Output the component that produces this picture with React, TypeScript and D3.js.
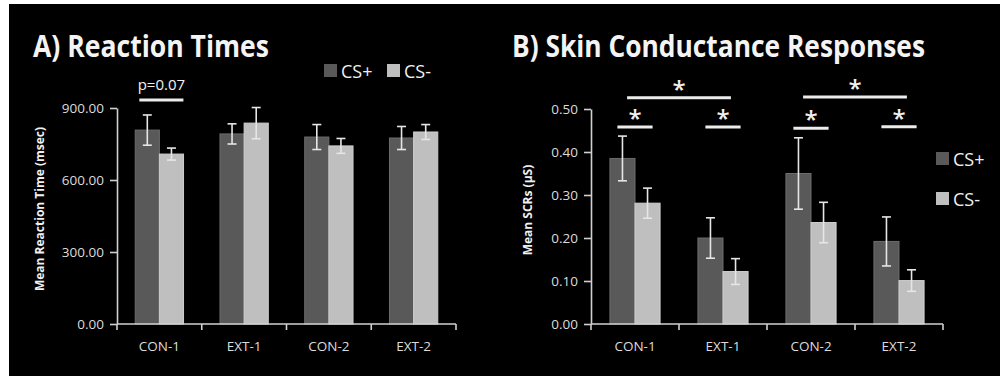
import React, { useRef, useEffect } from "react";
import * as d3 from "d3";

const categories = ["CON-1", "EXT-1", "CON-2", "EXT-2"];
const seriesNames = ["CS+", "CS-"];

// panel A: reaction times (msec)
const rtCSPlus = [808, 792, 779, 775];
const rtCSPlusErr = [63, 42, 52, 48];
const rtCSMinus = [708, 837, 742, 800];
const rtCSMinusErr = [25, 65, 31, 31];
const rtTicks = [0, 300, 600, 900];

// panel B: skin conductance responses (uS)
const scrCSPlus = [0.385, 0.2, 0.35, 0.192];
const scrCSPlusErr = [0.052, 0.047, 0.083, 0.057];
const scrCSMinus = [0.281, 0.122, 0.236, 0.101];
const scrCSMinusErr = [0.035, 0.03, 0.047, 0.025];
const scrTicks = [0, 0.1, 0.2, 0.3, 0.4, 0.5];

// significance markers
const rtPairSig = [{ cat: "CON-1", level: 933, label: "p=0.07" }];
const scrPairSig = [
  { cat: "CON-1", level: 0.458, label: "*" },
  { cat: "EXT-1", level: 0.458, label: "*" },
  { cat: "CON-2", level: 0.455, label: "*" },
  { cat: "EXT-2", level: 0.459, label: "*" },
];
const scrAcrossSig = [
  { from: "CON-1", to: "EXT-1", level: 0.526, label: "*" },
  { from: "CON-2", to: "EXT-2", level: 0.528, label: "*" },
];

const DARK = "#595959";
const LIGHT = "#bfbfbf";
const AXIS = "#d0d0d0";
const TEXT = "#dcdcdc";
const FONT = "'Open Sans', sans-serif";

type Panel = {
  title: string;
  titleX: number;
  titleLen: number;
  yLabel: string;
  yLabelX: number;
  yLabelY: number;
  x0: number;
  x1: number;
  yTop: number;
  yMax: number;
  ticks: number[];
  plus: number[];
  plusErr: number[];
  minus: number[];
  minusErr: number[];
  pairs: { cat: string; level: number; label: string }[];
  pairHalf: number;
  pairShift: number;
  pairFont: number;
  across: { from: string; to: string; level: number; label: string }[];
  legend: { x: number; y: number; dx: number; dy: number }[];
};

const panels: Panel[] = [
  {
    title: "A) Reaction Times",
    titleX: 33,
    titleLen: 236,
    yLabel: "Mean Reaction Time (msec)",
    yLabelX: 44,
    yLabelY: 209,
    x0: 117,
    x1: 456,
    yTop: 108,
    yMax: 900,
    ticks: rtTicks,
    plus: rtCSPlus,
    plusErr: rtCSPlusErr,
    minus: rtCSMinus,
    minusErr: rtCSMinusErr,
    pairs: rtPairSig,
    pairHalf: 0.26,
    pairShift: 2,
    pairFont: 15,
    across: [],
    legend: [
      { x: 324, y: 64, dx: 17, dy: 14 },
      { x: 387, y: 64, dx: 17, dy: 14 },
    ],
  },
  {
    title: "B) Skin Conductance Responses",
    titleX: 512,
    titleLen: 413,
    yLabel: "Mean SCRs (\u00b5S)",
    yLabelX: 532,
    yLabelY: 210,
    x0: 591,
    x1: 943,
    yTop: 109,
    yMax: 0.5,
    ticks: scrTicks,
    plus: scrCSPlus,
    plusErr: scrCSPlusErr,
    minus: scrCSMinus,
    minusErr: scrCSMinusErr,
    pairs: scrPairSig,
    pairHalf: 0.2,
    pairShift: 0,
    pairFont: 24,
    across: scrAcrossSig,
    legend: [
      { x: 936, y: 152, dx: 17, dy: 14 },
      { x: 936, y: 192, dx: 17, dy: 14 },
    ],
  },
];

const Chart = () => {
  const svgRef = useRef<SVGSVGElement>(null);

  useEffect(() => {
    const svg = d3.select(svgRef.current);
    svg.selectAll("*").remove();

    svg.append("rect").attr("width", 1000).attr("height", 376).attr("fill", "#fff");
    svg.append("rect").attr("x", 9).attr("y", 4).attr("width", 991).attr("height", 372).attr("fill", "#000");

    panels.forEach((p) => {
      const g = svg.append("g");
      const xScale = d3.scaleBand().domain(categories).range([p.x0, p.x1]).padding(0);
      const yScale = d3.scaleLinear().domain([0, p.yMax]).range([324, p.yTop]);
      const bw = xScale.bandwidth() * 0.285;
      const center = (c: string) => (xScale(c) as number) + xScale.bandwidth() / 2;

      // title
      g.append("text")
        .attr("x", p.titleX)
        .attr("y", 57)
        .attr("fill", "#f4f4f4")
        .attr("font-family", FONT)
        .attr("font-weight", 700)
        .attr("font-size", 30)
        .attr("textLength", p.titleLen)
        .attr("lengthAdjust", "spacingAndGlyphs")
        .text(p.title);

      // y axis
      const yAxis = d3
        .axisLeft(yScale)
        .tickValues(p.ticks)
        .tickFormat(d3.format(".2f"))
        .tickSize(7)
        .tickSizeOuter(0)
        .tickPadding(6);
      const ya = g.append("g").attr("transform", `translate(${p.x0},0)`).call(yAxis);
      ya.selectAll("path,line").attr("stroke", AXIS).attr("stroke-width", 1.6);
      ya.selectAll("text").attr("fill", TEXT).attr("font-family", FONT).attr("font-size", 13.5);

      g.append("text")
        .attr("transform", `translate(${p.yLabelX},${p.yLabelY}) rotate(-90)`)
        .attr("text-anchor", "middle")
        .attr("fill", "#f0f0f0")
        .attr("font-family", FONT)
        .attr("font-weight", 700)
        .attr("font-size", 12)
        .text(p.yLabel);

      // bars
      const rows = categories.map((c, i) => [
        { c, k: 0, v: p.plus[i], e: p.plusErr[i] },
        { c, k: 1, v: p.minus[i], e: p.minusErr[i] },
      ]).flat();

      const barX = (d: { c: string; k: number }) => center(d.c) - bw + d.k * bw;

      g.selectAll(".bar")
        .data(rows)
        .join("rect")
        .attr("class", "bar")
        .attr("x", barX)
        .attr("y", (d) => yScale(d.v))
        .attr("width", bw)
        .attr("height", (d) => 324 - yScale(d.v))
        .attr("fill", (d) => (d.k === 0 ? DARK : LIGHT))
        .attr("stroke", (d) => (d.k === 0 ? "#6c6c6c" : "#cfcfcf"))
        .attr("stroke-width", 1);

      // error bars
      const err = g.selectAll(".err").data(rows).join("g").attr("class", "err");
      err.append("line")
        .attr("x1", (d) => barX(d) + bw / 2)
        .attr("x2", (d) => barX(d) + bw / 2)
        .attr("y1", (d) => yScale(d.v + d.e))
        .attr("y2", (d) => yScale(d.v - d.e));
      err.append("line")
        .attr("x1", (d) => barX(d) + bw / 2 - 4.5)
        .attr("x2", (d) => barX(d) + bw / 2 + 4.5)
        .attr("y1", (d) => yScale(d.v + d.e))
        .attr("y2", (d) => yScale(d.v + d.e));
      err.append("line")
        .attr("x1", (d) => barX(d) + bw / 2 - 4.5)
        .attr("x2", (d) => barX(d) + bw / 2 + 4.5)
        .attr("y1", (d) => yScale(d.v - d.e))
        .attr("y2", (d) => yScale(d.v - d.e));
      err.selectAll("line").attr("stroke", "#e6e6e6").attr("stroke-width", 1.6);

      // x axis
      g.append("line")
        .attr("x1", p.x0)
        .attr("x2", p.x1)
        .attr("y1", 324)
        .attr("y2", 324)
        .attr("stroke", AXIS)
        .attr("stroke-width", 1.6);
      const bounds = [...categories.map((c) => xScale(c) as number), p.x1];
      g.selectAll(".xtick")
        .data(bounds)
        .join("line")
        .attr("class", "xtick")
        .attr("x1", (d) => d)
        .attr("x2", (d) => d)
        .attr("y1", 324)
        .attr("y2", 330)
        .attr("stroke", AXIS)
        .attr("stroke-width", 1.6);
      g.selectAll(".xlab")
        .data(categories)
        .join("text")
        .attr("class", "xlab")
        .attr("x", (d) => center(d))
        .attr("y", 351)
        .attr("text-anchor", "middle")
        .attr("fill", TEXT)
        .attr("font-family", FONT)
        .attr("font-size", 13.5)
        .text((d) => d);

      // significance: within pair
      p.pairs.forEach((s) => {
        const cx = center(s.cat) + p.pairShift;
        const half = xScale.bandwidth() * p.pairHalf;
        const y = yScale(s.level);
        g.append("line")
          .attr("x1", cx - half)
          .attr("x2", cx + half)
          .attr("y1", y)
          .attr("y2", y)
          .attr("stroke", "#ececec")
          .attr("stroke-width", 3);
        g.append("text")
          .attr("x", cx)
          .attr("y", s.label === "*" ? y : y - 10)
          .attr("text-anchor", "middle")
          .attr("fill", "#f0f0f0")
          .attr("font-family", FONT)
          .attr("font-weight", s.label === "*" ? 600 : 400)
          .attr("font-size", p.pairFont)
          .text(s.label);
      });

      // significance: across conditions
      p.across.forEach((s) => {
        const xa = center(s.from) - xScale.bandwidth() * 0.09;
        const xb = center(s.to) + xScale.bandwidth() * 0.09;
        const y = yScale(s.level);
        g.append("line")
          .attr("x1", xa)
          .attr("x2", xb)
          .attr("y1", y)
          .attr("y2", y)
          .attr("stroke", "#ececec")
          .attr("stroke-width", 3);
        g.append("text")
          .attr("x", (xa + xb) / 2)
          .attr("y", y)
          .attr("text-anchor", "middle")
          .attr("fill", "#f0f0f0")
          .attr("font-family", FONT)
          .attr("font-weight", 600)
          .attr("font-size", 24)
          .text(s.label);
      });

      // legend
      p.legend.forEach((l, i) => {
        g.append("rect")
          .attr("x", l.x)
          .attr("y", l.y)
          .attr("width", 13)
          .attr("height", 13)
          .attr("fill", i === 0 ? DARK : LIGHT);
        g.append("text")
          .attr("x", l.x + l.dx)
          .attr("y", l.y + l.dy)
          .attr("fill", "#f0f0f0")
          .attr("font-family", FONT)
          .attr("font-size", 18)
          .text(seriesNames[i]);
      });
    });
  }, []);

  return (
    <svg
      ref={svgRef}
      width={1000}
      height={376}
      style={{ position: "absolute", left: 0, top: 0 }}
    />
  );
};

export default function App() {
  return <Chart />;
}
